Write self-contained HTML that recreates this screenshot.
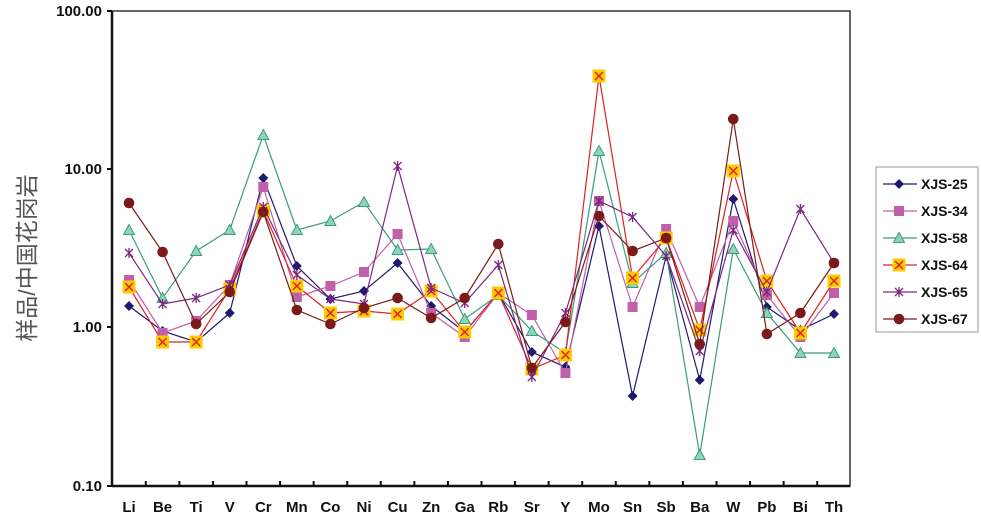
<!DOCTYPE html><html><head><meta charset="utf-8"><style>body{margin:0;background:#fff}svg{display:block}</style></head><body>
<svg width="981" height="518" xmlns="http://www.w3.org/2000/svg" font-family="Liberation Sans, sans-serif">
<defs>
<g id="m0"><path d="M0,-5L5,0L0,5L-5,0Z" fill="#1f1a6e"/></g>
<g id="m1"><rect x="-5" y="-5" width="10" height="10" fill="#c060a8"/></g>
<g id="m2"><path d="M0,-5.5L5.5,4.5L-5.5,4.5Z" fill="#8fd3b8" stroke="#3a9c7c" stroke-width="1"/></g>
<g id="m3"><rect x="-6.5" y="-6.5" width="13" height="13" fill="#ffcc00"/><path d="M-4,-4L4,4M4,-4L-4,4" stroke="#e02020" stroke-width="1.5"/></g>
<g id="m4"><path d="M-4,-4L4,4M4,-4L-4,4M0,-5V5" stroke="#7a2880" stroke-width="1.3"/></g>
<g id="m5"><circle r="5.3" fill="#7a1a1a"/></g>
</defs>
<rect x="112" y="11" width="738" height="475" fill="none" stroke="#333" stroke-width="1.5"/>
<line x1="112" y1="11" x2="112" y2="486" stroke="#111" stroke-width="2.5"/>
<line x1="112" y1="486" x2="850" y2="486" stroke="#111" stroke-width="2.5"/>
<g stroke="#111" stroke-width="2">
<line x1="107" y1="11" x2="112" y2="11"/><line x1="107" y1="169" x2="112" y2="169"/><line x1="107" y1="327" x2="112" y2="327"/><line x1="107" y1="486" x2="112" y2="486"/>
</g>
<g id="ticks" stroke="#111" stroke-width="2"></g>
<g font-size="15" font-weight="bold" text-anchor="end" fill="#111">
<text x="102" y="16">100.00</text><text x="102" y="174">10.00</text><text x="102" y="332">1.00</text><text x="102" y="491">0.10</text>
</g>
<text transform="translate(35,258) rotate(-90)" font-size="23" text-anchor="middle" fill="#555" font-family="Liberation Sans, Noto Sans CJK SC, sans-serif">样品/中国花岗岩</text>
<g id="xl" font-size="15" font-weight="bold" text-anchor="middle" fill="#111"></g>
<g id="series"></g>
<rect x="876" y="167" width="102" height="165" fill="#fff" stroke="#999" stroke-width="1"/>
<g id="leg" font-size="14" font-weight="bold" fill="#111"></g>
</svg>
<script>
var ns="http://www.w3.org/2000/svg";
var labs="Li Be Ti V Cr Mn Co Ni Cu Zn Ga Rb Sr Y Mo Sn Sb Ba W Pb Bi Th".split(" ");
function X(i){return 129+i*(834-129)/21;}
var t=document.getElementById("ticks"),xl=document.getElementById("xl");
for(var i=0;i<22;i++){
 if(i>0){var l=document.createElementNS(ns,"line");var xx=(X(i)+X(i-1))/2;l.setAttribute("x1",xx);l.setAttribute("x2",xx);l.setAttribute("y1",481);l.setAttribute("y2",486);t.appendChild(l);}
 var tx=document.createElementNS(ns,"text");tx.setAttribute("x",X(i));tx.setAttribute("y",512);tx.textContent=labs[i];xl.appendChild(tx);}
var S=[
["#1f1a6e",[306,331,342,313,178,266,299,291,263,306,332,293,352,367,226,396,256,380,199,307,330,314],"XJS-25"],
["#c060a8",[280,333,321,285,187,297,286,272,234,313,337,293,315,373,201,307,229,307,221,295,337,293],"XJS-34"],
["#3a9c7c",[230,298,251,230,135,230,221,202,250,249,319,295,331,353,151,283,253,455,249,313,353,353],"XJS-58"],
["#e02020",[287,342,342,289,211,286,313,311,314,291,332,293,369,355,76,278,238,330,171,281,333,281],"XJS-64"],
["#7a2880",[253,304,298,285,207,275,299,304,166,288,303,265,377,313,201,217,256,351,230,292,209,263],"XJS-65"],
["#7a1a1a",[203,252,324,292,212,310,324,308,298,318,298,244,368,322,216,251,238,344,119,334,313,263],"XJS-67"]];
var g=document.getElementById("series"),lg=document.getElementById("leg");
S.forEach(function(s,k){
 var p=document.createElementNS(ns,"polyline");
 p.setAttribute("points",s[1].map(function(y,i){return X(i)+","+y}).join(" "));
 p.setAttribute("fill","none");p.setAttribute("stroke",s[0]);p.setAttribute("stroke-width","1.2");g.appendChild(p);
 s[1].forEach(function(y,i){var u=document.createElementNS(ns,"use");u.setAttribute("href","#m"+k);u.setAttribute("x",X(i));u.setAttribute("y",y);g.appendChild(u);});
 var ly=184+k*27;
 var l=document.createElementNS(ns,"line");l.setAttribute("x1",883);l.setAttribute("x2",917);l.setAttribute("y1",ly);l.setAttribute("y2",ly);l.setAttribute("stroke",s[0]);l.setAttribute("stroke-width","1.2");lg.appendChild(l);
 var u=document.createElementNS(ns,"use");u.setAttribute("href","#m"+k);u.setAttribute("x",899);u.setAttribute("y",ly);lg.appendChild(u);
 var tx=document.createElementNS(ns,"text");tx.setAttribute("x",921);tx.setAttribute("y",ly+5);tx.textContent=s[2];lg.appendChild(tx);
});
</script>
</body></html>
